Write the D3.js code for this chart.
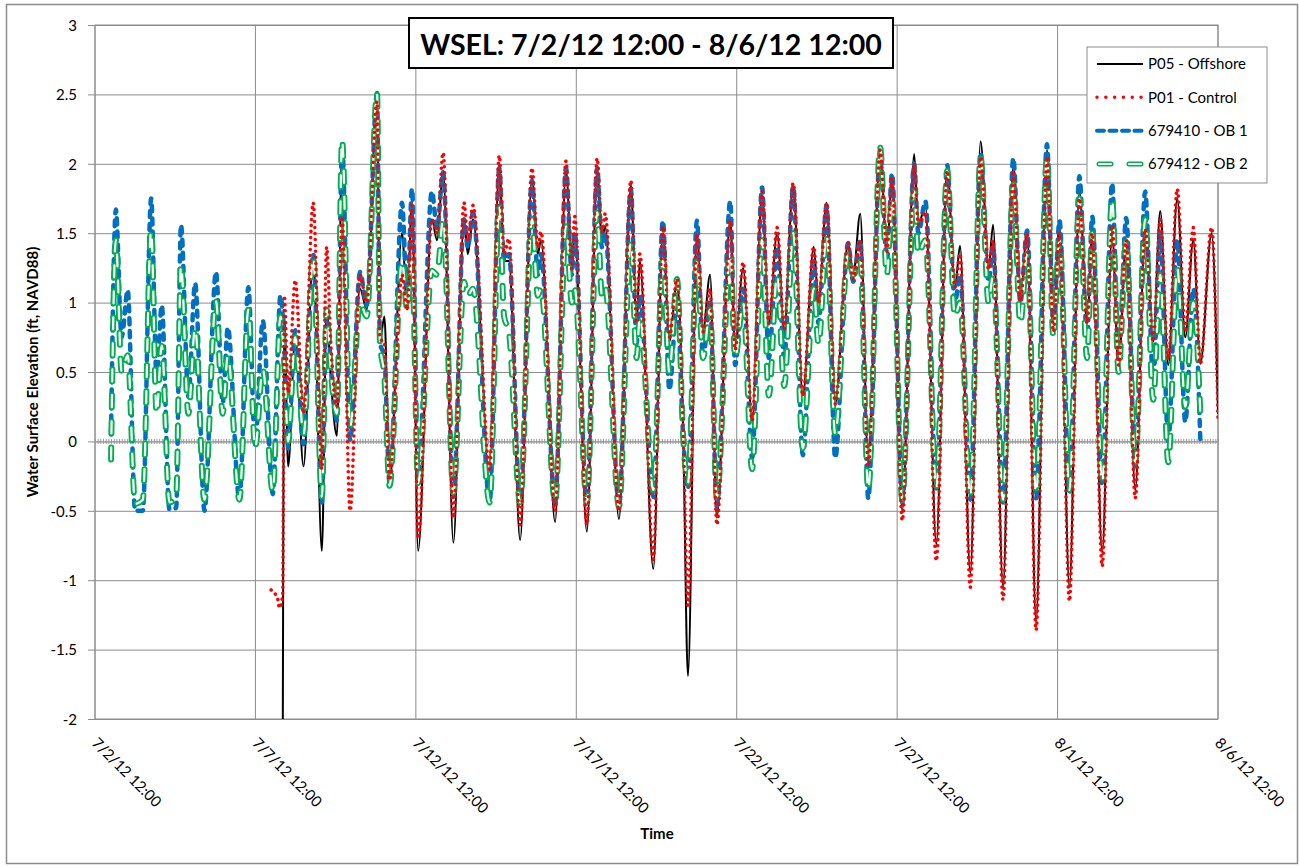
<!DOCTYPE html>
<meta charset="utf-8">
<script src="https://d3js.org/d3.v7.min.js"></script>
<style>
  body { margin: 0; background: #fff; }
  text { font-family: Lato, "Open Sans", sans-serif; fill: #000; }
</style>
<div id="chart"></div>
<script>
  // time of each reading, days after 7/2/12 12:00
  var tDays = [
    0.5, 0.65, 0.83, 1.02, 1.25, 1.49, 1.75, 1.92, 2.08, 2.32,
    2.53, 2.68, 2.91, 3.12, 3.41, 3.77, 3.98, 4.14, 4.5, 4.78,
    4.99, 5.23, 5.49, 5.54, 5.62, 5.7, 5.75, 5.78, 5.85, 5.9,
    6.02, 6.24, 6.5, 6.8, 7.07, 7.22, 7.35, 7.54, 7.7, 7.95,
    8.26, 8.47, 8.79, 8.88, 9.02, 9.18, 9.57, 9.73, 9.88, 10.07,
    10.5, 10.66, 10.85, 11.17, 11.5, 11.62, 11.78, 12.3, 12.6, 12.75,
    12.9, 13.25, 13.62, 13.8, 13.9, 14.34, 14.68, 14.86, 14.95, 15.33,
    15.65, 15.8, 15.9, 16.33, 16.7, 16.88, 16.98, 17.4, 17.7, 17.9,
    18.14, 18.33, 18.48, 18.76, 18.95, 19.17, 19.38, 19.8, 19.95, 20.2,
    20.48, 20.79, 21.0, 21.26, 21.48, 21.76, 22.06, 22.4, 22.55, 22.8,
    23.07, 23.47, 23.63, 23.85, 24.1, 24.47, 24.68, 24.84, 25.16, 25.53,
    25.66, 25.88, 26.22, 26.56, 26.8, 26.96, 27.28, 27.6, 27.85, 27.99,
    28.3, 28.62, 28.84, 29.05, 29.33, 29.67, 29.87, 30.06, 30.37, 30.68,
    30.92, 31.08, 31.39, 31.7, 31.9, 32.14, 32.42, 32.73, 32.98, 33.2,
    33.45, 33.73, 33.98, 34.23, 34.45, 34.8, 35.0
  ];

  var p05 = [
    null, null, null, null, null, null, null, null, null, null,
    null, null, null, null, null, null, null, null, null, null,
    null, null, null, null, null, null, null, null, -2.4, 0.9,
    -0.18, 0.75, -0.18, 1.35, -0.79, 0.95, 0.45, 0.04, 2.1, 0.14,
    1.1, 0.95, 2.5, 0.72, 0.9, -0.31, 1.5, 0.95, 1.75, -0.79,
    1.6, 1.45, 1.95, -0.73, 1.6, 1.35, 1.6, -0.3, 2.0, 1.3,
    1.3, -0.71, 1.9, 1.35, 1.45, -0.58, 1.95, 1.3, 1.5, -0.65,
    1.95, 1.45, 1.55, -0.56, 1.85, 0.85, 1.3, -0.92, 1.5, 0.72,
    1.15, 0.1, -1.69, 1.5, 0.8, 1.2, -0.55, 1.6, 0.66, 1.25,
    0.15, 1.78, 0.85, 1.5, 0.8, 1.85, 0.33, 1.4, 1.0, 1.72,
    0.27, 1.43, 1.2, 1.64, -0.15, 2.1, 1.37, 1.9, -0.5, 2.07,
    1.56, 1.7, -0.74, 1.98, 1.1, 1.41, -0.95, 2.16, 1.24, 1.56,
    -1.05, 2.0, 1.01, 1.52, -1.3, 2.1, 0.79, 1.55, -1.05, 1.8,
    0.85, 1.5, -0.8, 1.5, 0.53, 1.45, -0.35, 1.5, 0.72, 1.66,
    0.55, 1.75, 0.75, 1.45, 0.56, 1.5, 0.2
  ];

  var p01 = [
    null, null, null, null, null, null, null, null, null, null,
    null, null, null, null, null, null, null, null, null, null,
    null, null, -1.07, null, -1.1, -1.14, -1.2, null, -1.1, 1.05,
    0.35, 1.16, 0.2, 1.72, -0.2, 1.4, 0.7, 0.25, 1.62, -0.5,
    1.2, 1.0, 2.45, 0.75, 0.7, -0.28, 1.2, 0.95, 1.7, -0.7,
    1.6, 1.5, 2.08, -0.55, 1.72, 1.45, 1.7, -0.2, 2.06, 1.35,
    1.46, -0.6, 1.97, 1.4, 1.51, -0.5, 2.02, 1.24, 1.62, -0.6,
    2.04, 1.5, 1.64, -0.5, 1.88, 0.85, 1.35, -0.85, 1.55, 0.75,
    1.17, 0.1, -1.18, 1.49, 0.79, 1.1, -0.6, 1.59, 0.66, 1.29,
    0.15, 1.8, 0.85, 1.54, 0.81, 1.86, 0.33, 1.4, 1.0, 1.72,
    0.27, 1.43, 1.17, 1.45, -0.18, 2.1, 1.37, 1.9, -0.57, 2.0,
    1.56, 1.65, -0.86, 1.95, 1.11, 1.35, -1.05, 2.05, 1.24, 1.45,
    -1.14, 1.95, 1.01, 1.5, -1.36, 2.05, 0.79, 1.5, -1.15, 1.75,
    0.85, 1.5, -0.9, 1.56, 0.55, 1.45, -0.41, 1.53, 0.72, 1.6,
    0.59, 1.82, 0.79, 1.54, 0.56, 1.54, 0.16
  ];

  var ob1 = [
    0.05, 1.67, 0.75, 1.09, -0.5, -0.5, 1.75, 0.46, 0.98, -0.49,
    -0.48, 1.56, 0.32, 1.14, -0.5, 1.22, 0.28, 0.82, -0.42, 1.11,
    -0.02, 0.87, null, -0.38, null, null, null, 1.05, null, 0.7,
    -0.05, 0.8, -0.02, 1.35, -0.44, 0.95, 0.55, 0.15, 2.14, 0.01,
    1.22, 0.98, 2.51, 0.72, 0.6, -0.3, 1.72, 1.0, 1.82, -0.25,
    1.8, 1.53, 1.94, -0.4, 1.6, 1.4, 1.65, -0.44, 1.97, 1.3,
    1.35, -0.44, 1.88, 1.2, 1.35, -0.45, 1.97, 1.2, 1.5, -0.45,
    1.97, 1.4, 1.5, -0.47, 1.82, 0.7, 1.05, -0.4, 1.59, 0.37,
    1.0, 0.04, -0.34, 1.59, 0.6, 1.0, -0.47, 1.73, 0.55, 1.1,
    -0.12, 1.83, 0.6, 1.4, 0.6, 1.84, -0.1, 1.3, 0.85, 1.7,
    -0.12, 1.43, 1.15, 1.45, -0.41, 2.1, 1.3, 1.93, -0.44, 2.0,
    1.5, 1.73, -0.34, 1.99, 1.0, 1.2, -0.42, 2.08, 1.15, 1.4,
    -0.44, 2.04, 1.0, 1.52, -0.41, 2.14, 0.85, 1.59, -0.37, 1.91,
    0.75, 1.62, -0.31, 1.86, 0.6, 1.61, -0.18, 1.8, 0.45, 1.5,
    0.0, 1.45, 0.14, 1.1, 0.0, null, null
  ];

  var ob2 = [
    -0.13, 1.45, 0.5, 0.62, -0.45, -0.42, 1.52, 0.2, 0.69, -0.44,
    -0.4, 1.27, 0.2, 0.82, -0.42, 1.01, 0.2, 0.62, -0.42, 0.95,
    -0.05, 0.52, null, -0.36, null, null, null, 0.9, null, 0.55,
    0.0, 0.75, 0.05, 1.33, -0.4, 0.95, 0.5, 0.2, 2.17, 0.1,
    1.0, 0.9, 2.51, 0.72, 0.46, -0.32, 1.3, 0.95, 1.3, -0.3,
    1.23, 1.2, 1.6, -0.37, 1.15, 1.05, 1.1, -0.44, 1.7, 0.9,
    0.79, -0.44, 1.6, 1.05, 1.1, -0.44, 1.55, 1.0, 1.1, -0.44,
    1.65, 1.05, 1.11, -0.47, 1.44, 0.6, 0.9, -0.35, 1.3, 0.5,
    1.17, 0.04, -0.3, 1.3, 0.6, 0.95, -0.4, 1.35, 0.6, 1.0,
    -0.2, 1.45, 0.33, 1.2, 0.4, 1.5, -0.05, 1.1, 0.7, 1.49,
    0.05, 1.35, 1.2, 1.3, -0.35, 2.12, 1.2, 1.75, -0.42, 1.8,
    1.35, 1.45, -0.34, 1.95, 0.9, 1.0, -0.4, 2.05, 1.0, 1.2,
    -0.42, 1.85, 0.85, 1.35, -0.38, 2.05, 0.75, 1.45, -0.35, 1.75,
    0.6, 1.5, -0.3, 1.75, 0.5, 1.45, -0.15, 1.6, 0.3, 1.2,
    -0.15, 1.25, 0.25, 1.0, 0.2, null, null
  ];

  var seriesNames = ["P05 - Offshore", "P01 - Control", "679410 - OB 1", "679412 - OB 2"];
  var yTicks = [-2, -1.5, -1, -0.5, 0, 0.5, 1, 1.5, 2, 2.5, 3];
  var xTickDays = [0, 5, 10, 15, 20, 25, 30, 35];
  var startDate = new Date(Date.UTC(2012, 6, 2, 12, 0));

  var W = 1299, H = 866;
  var margin = { top: 25, right: 81, bottom: 147, left: 95 },
    width = W - margin.left - margin.right,
    height = H - margin.top - margin.bottom;

  var svg = d3.select("#chart").append("svg")
    .attr("width", W)
    .attr("height", H);

  // outer chart border
  svg.append("rect")
    .attr("x", 6.5).attr("y", 4.5)
    .attr("width", 1291).attr("height", 859)
    .attr("fill", "#fff")
    .attr("stroke", "#8c8c8c")
    .attr("stroke-width", 1.5);

  var g = svg.append("g")
    .attr("transform", "translate(" + margin.left + "," + margin.top + ")");

  var x = d3.scaleLinear().domain([0, 35]).range([0, width]);
  var y = d3.scaleLinear().domain([-2, 3]).range([height, 0]);

  // horizontal gridlines + left ticks
  g.append("g")
    .call(d3.axisLeft(y).tickValues(yTicks).tickSize(-width).tickSizeOuter(0)
      .tickFormat(function (d) { return d; }))
    .call(function (a) {
      a.select(".domain").remove();
      a.selectAll(".tick line").attr("stroke", "#8c8c8c").attr("x1", -7);
      a.selectAll(".tick text").attr("x", -18).attr("dy", "0.35em")
        .style("font-size", "15px").style("font-family", "Lato, sans-serif").attr("fill", "#000");
    });

  // vertical gridlines
  g.append("g")
    .selectAll("line")
    .data(xTickDays)
    .enter()
    .append("line")
    .attr("x1", function (d) { return x(d); })
    .attr("x2", function (d) { return x(d); })
    .attr("y1", 0)
    .attr("y2", height)
    .attr("stroke", "#8c8c8c");

  // plot border
  g.append("rect")
    .attr("width", width).attr("height", height)
    .attr("fill", "none").attr("stroke", "#8c8c8c");

  // horizontal axis crossing at zero, with minor ticks
  var zeroAxis = g.append("g")
    .attr("transform", "translate(0," + (y(0) - 2.5) + ")")
    .call(d3.axisBottom(x).tickValues(d3.range(0, 35.001, 1 / 12)).tickSize(5).tickSizeOuter(0).tickFormat(""));
  zeroAxis.select(".domain").attr("stroke", "#9a9a9a").attr("transform", "translate(0,2.5)");
  zeroAxis.selectAll(".tick line").attr("stroke", "#9a9a9a");

  // x labels at the bottom, rotated
  var fmt = d3.utcFormat("%-m/%-d/%y %H:%M");
  g.append("g")
    .selectAll("text")
    .data(xTickDays)
    .enter()
    .append("text")
    .attr("transform", function (d) { return "translate(" + (x(d) - 4) + "," + (height + 25) + ") rotate(45)"; })
    .attr("text-anchor", "start")
    .style("font-size", "15px")
    .text(function (d) { return fmt(new Date(startDate.getTime() + d * 864e5)); });

  // clip to plot
  svg.append("defs").append("clipPath").attr("id", "plotClip")
    .append("rect").attr("width", width).attr("height", height);

  var plot = g.append("g").attr("clip-path", "url(#plotClip)");

  function rows(vals) {
    return tDays.map(function (t, i) { return { t: t, v: vals[i] }; })
      .filter(function (d) { return d.v !== null; });
  }

  var line = d3.line()
    .x(function (d) { return x(d.t); })
    .y(function (d) { return y(d.v); })
    .curve(d3.curveMonotoneX);

  // P05 - black solid
  plot.append("path").datum(rows(p05))
    .attr("d", line).attr("fill", "none")
    .attr("stroke", "#000").attr("stroke-width", 2);

  // 679410 - blue dashed
  plot.append("path").datum(rows(ob1))
    .attr("d", line).attr("fill", "none")
    .attr("stroke", "#0070c0").attr("stroke-width", 4.5)
    .attr("stroke-dasharray", "6 7").attr("stroke-linecap", "round");

  // 679412 - green hollow dashes
  plot.append("path").datum(rows(ob2))
    .attr("d", line).attr("fill", "none")
    .attr("stroke", "#00b050").attr("stroke-width", 6)
    .attr("stroke-dasharray", "12 14").attr("stroke-linecap", "round");
  plot.append("path").datum(rows(ob2))
    .attr("d", line).attr("fill", "none")
    .attr("stroke", "#fff").attr("stroke-width", 2.2)
    .attr("stroke-dasharray", "12 14").attr("stroke-linecap", "round");

  // P01 - red dotted
  plot.append("path").datum(rows(p01))
    .attr("d", line).attr("fill", "none")
    .attr("stroke", "#ff0000").attr("stroke-width", 3.6)
    .attr("stroke-dasharray", "0.01 6").attr("stroke-linecap", "round");

  // title box
  svg.append("rect")
    .attr("x", 409).attr("y", 18).attr("width", 484).attr("height", 50)
    .attr("fill", "#fff").attr("stroke", "#000").attr("stroke-width", 2);
  var title = svg.append("text")
    .attr("x", 651).attr("y", 55)
    .attr("text-anchor", "middle")
    .style("font-size", "30px").style("font-weight", "bold")
    .text("WSEL: 7/2/12 12:00 - 8/6/12 12:00");
  var tw = title.node().getComputedTextLength();
  title.style("font-size", (30 * 462 / tw) + "px");

  // axis titles
  svg.append("text")
    .attr("transform", "translate(38," + (margin.top + height / 2) + ") rotate(-90)")
    .attr("text-anchor", "middle")
    .style("font-size", "15px").style("font-weight", "bold")
    .text("Water Surface Elevation (ft, NAVD88)");
  svg.append("text")
    .attr("x", 657).attr("y", 839)
    .attr("text-anchor", "middle")
    .style("font-size", "15px").style("font-weight", "bold")
    .text("Time");

  // legend
  var legend = svg.append("g").attr("transform", "translate(1087,47)");
  legend.append("rect")
    .attr("width", 180).attr("height", 136)
    .attr("fill", "#fff").attr("stroke", "#8c8c8c");

  var legendY = d3.scalePoint().domain(seriesNames).range([17, 117]);
  var legendStyles = [
    [{ stroke: "#000", w: 2, dash: null, cap: "butt" }],
    [{ stroke: "#ff0000", w: 3.5, dash: "0.01 8.8", cap: "round" }],
    [{ stroke: "#0070c0", w: 4, dash: "7 5.5", cap: "round" }],
    [{ stroke: "#00b050", w: 5, dash: "12 18", cap: "round" }, { stroke: "#fff", w: 2, dash: "12 18", cap: "round" }]
  ];
  seriesNames.forEach(function (name, i) {
    var row = legend.append("g").attr("transform", "translate(0," + legendY(name) + ")");
    legendStyles[i].forEach(function (s) {
      row.append("line")
        .attr("x1", i === 3 ? 12 : 10).attr("x2", 56)
        .attr("stroke", s.stroke).attr("stroke-width", s.w)
        .attr("stroke-dasharray", s.dash).attr("stroke-linecap", s.cap);
    });
    row.append("text")
      .attr("x", 61).attr("dy", "0.35em")
      .style("font-size", "15px")
      .text(name);
  });
</script>
